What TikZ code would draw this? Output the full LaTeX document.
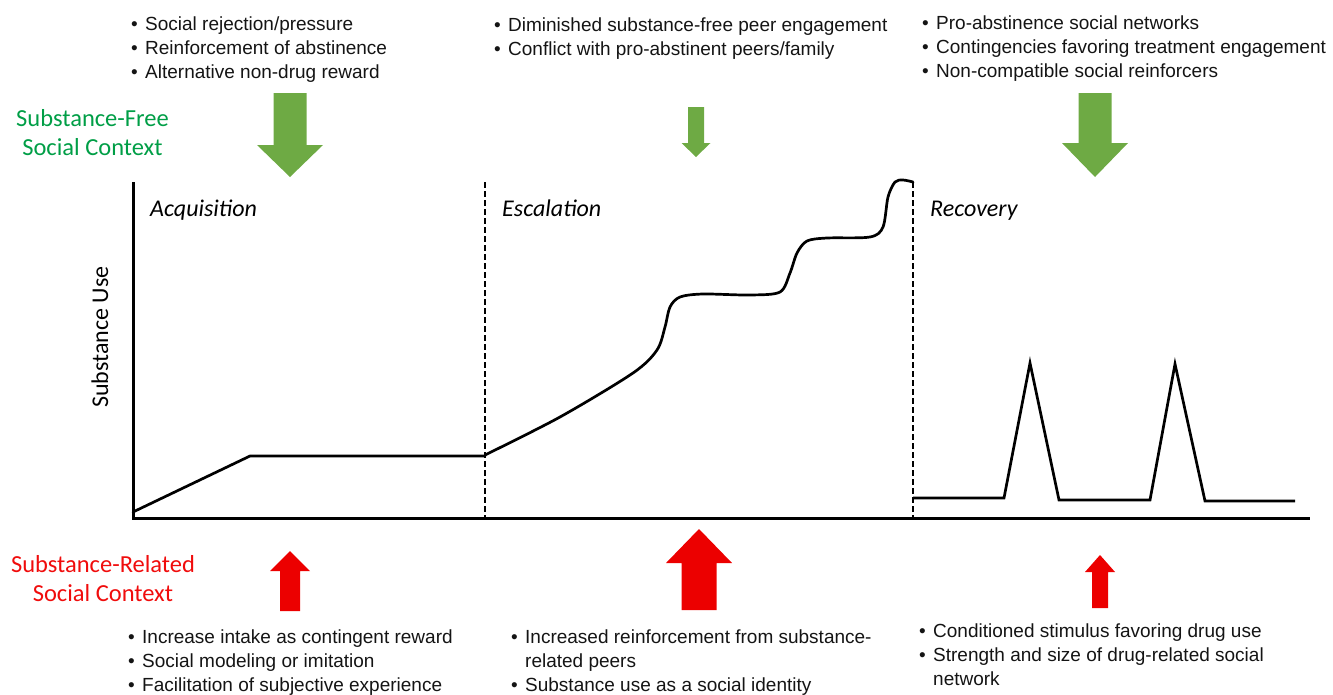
\documentclass[tikz,border=0pt]{standalone}
\usepackage{fontspec}
\setmainfont{Liberation Sans}
\newfontfamily\calib{Carlito}
\definecolor{freegreen}{RGB}{0,158,70}
\definecolor{relred}{RGB}{240,12,12}
\definecolor{arrowgreen}{RGB}{110,170,68}
\definecolor{arrowred}{RGB}{236,0,0}
% bullet in a fixed-width box so wrapped lines hang under the text
\newcommand\bl{\makebox[14pt][l]{•}}
\begin{document}
\begin{tikzpicture}[x=1pt,y=-1pt,
  axisline/.style={line width=3pt, line join=miter},
  usecurve/.style={line width=2.7pt, line join=round, line cap=round},
  spikes/.style={line width=2.7pt, line join=miter, miter limit=20},
  phaseline/.style={line width=2.4pt, dash pattern=on 6pt off 3pt},
  listtxt/.style={inner sep=0pt, anchor=base west, text=black!92,
    font=\fontsize{19}{24}\selectfont},
  phaselabel/.style={inner sep=0pt, anchor=base west,
    font=\calib\itshape\fontsize{24}{28}\selectfont},
  ctxlabel/.style={inner sep=0pt, anchor=base,
    font=\calib\fontsize{24.5}{29}\selectfont},
  greenarrow/.style={fill=arrowgreen},
  redarrow/.style={fill=arrowred}]
\useasboundingbox (0,0) rectangle (1333,694);

% axes
\coordinate (ytop) at (133,182);
\coordinate (origin) at (133,518);
\coordinate (xend) at (1310,518);
\draw[axisline] (ytop) -- (origin) -- (xend);

% phase boundaries
\coordinate (b1top) at (485,182);
\coordinate (b1bot) at (485,517);
\coordinate (b2top) at (913,182);
\coordinate (b2bot) at (913,517);
\draw[phaseline] (b1top) -- (b1bot);
\draw[phaseline] (b2top) -- (b2bot);

% acquisition
\draw[usecurve] (133,512) -- (250,456) -- (485,456);
% escalation
\draw[usecurve] plot[smooth, tension=0.5] coordinates {
  (485,455) (560,417) (633,373) (657,350) (665,327) (670,307) (680,297)
  (703,294) (750,295) (780,292) (790,273) (797,253) (807,241) (827,238)
  (870,237) (883,227) (888,197) (895,182) (903,180) (913,182)};
% recovery with relapses
\draw[spikes] (913,498) -- (1004,498) -- (1030,363) -- (1059,500) -- (1150,500)
  -- (1175,364) -- (1205,501) -- (1295,501);

% phase names
\node[phaselabel] (acq) at (150,216) {Acquisition};
\node[phaselabel] (esc) at (502,216) {Escalation};
\node[phaselabel] (rec) at (930,216) {Recovery};

% axis title
\node[inner sep=0pt, rotate=90, font=\calib\fontsize{24}{29}\selectfont] (ylab) at (100,337) {Substance Use};

% context labels
\node[ctxlabel, text=freegreen] (freectx) at (92.5,126)
  {\begin{tabular}[t]{@{}c@{}}Substance-Free\\Social Context\end{tabular}};
\node[ctxlabel, text=relred] (relctx) at (103,572)
  {\begin{tabular}[t]{@{}c@{}}Substance-Related\\Social Context\end{tabular}};

% substance-free influences
\node[listtxt] (freeacq) at (131,30) {\begin{tabular}[t]{@{}l@{}l@{}}
  \bl&Social rejection/pressure\\
  \bl&Reinforcement of abstinence\\
  \bl&Alternative non-drug reward\end{tabular}};
\node[listtxt] (freeesc) at (494,31) {\begin{tabular}[t]{@{}l@{}l@{}}
  \bl&Diminished substance-free peer engagement\\
  \bl&Conflict with pro-abstinent peers/family\end{tabular}};
\node[listtxt] (freerec) at (922,29) {\begin{tabular}[t]{@{}l@{}l@{}}
  \bl&Pro-abstinence social networks\\
  \bl&Contingencies favoring treatment engagement\\
  \bl&Non-compatible social reinforcers\end{tabular}};

% substance-related influences
\node[listtxt] (relacq) at (128,643) {\begin{tabular}[t]{@{}l@{}l@{}}
  \bl&Increase intake as contingent reward\\
  \bl&Social modeling or imitation\\
  \bl&Facilitation of subjective experience\end{tabular}};
\node[listtxt] (relesc) at (511,643) {\begin{tabular}[t]{@{}l@{}l@{}}
  \bl&Increased reinforcement from substance-\\
  &related peers\\
  \bl&Substance use as a social identity\end{tabular}};
\node[listtxt] (relrec) at (919,637) {\begin{tabular}[t]{@{}l@{}l@{}}
  \bl&Conditioned stimulus favoring drug use\\
  \bl&Strength and size of drug-related social\\
  &network\end{tabular}};

% downward (protective) block arrows
\fill[greenarrow] (273.5,93) -- (306.5,93) -- (306.5,145) -- (323,145)
  -- (290,177) -- (257,145) -- (273.5,145) -- cycle;
\fill[greenarrow] (688,107) -- (704,107) -- (704,143) -- (710.5,143)
  -- (696,157) -- (681.5,143) -- (688,143) -- cycle;
\fill[greenarrow] (1078.5,93) -- (1111.5,93) -- (1111.5,143) -- (1128,143)
  -- (1095,177) -- (1062,143) -- (1078.5,143) -- cycle;

% upward (risk) block arrows
\fill[redarrow] (280,611) -- (300,611) -- (300,571) -- (310,571)
  -- (290,551) -- (270,571) -- (280,571) -- cycle;
\fill[redarrow] (681.5,610) -- (716.5,610) -- (716.5,563) -- (732,563)
  -- (699,529) -- (666,563) -- (681.5,563) -- cycle;
\fill[redarrow] (1092,608) -- (1108,608) -- (1108,572) -- (1115,572)
  -- (1100,555) -- (1085,572) -- (1092,572) -- cycle;
\end{tikzpicture}
\end{document}
